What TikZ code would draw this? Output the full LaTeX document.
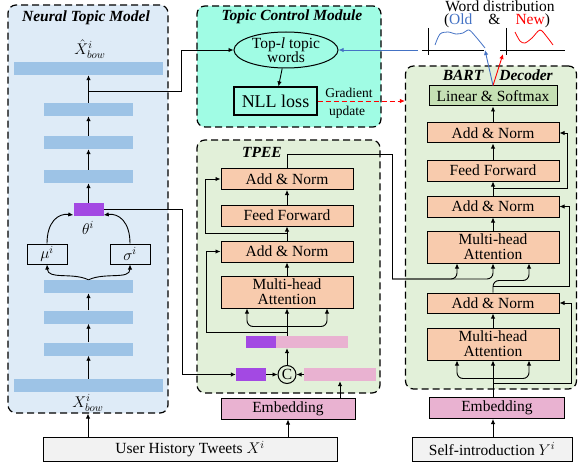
\RequirePackage{fix-cm}
\documentclass[tikz,border=0pt]{standalone}
\usepackage{fontspec}
\setmainfont{Liberation Serif}
\usetikzlibrary{arrows.meta,shapes.geometric,calc}

\definecolor{ntmfill}{RGB}{222,235,247}
\definecolor{barblue}{RGB}{157,195,230}
\definecolor{tcmfill}{RGB}{160,252,228}
\definecolor{encfill}{RGB}{226,240,217}
\definecolor{addnorm}{RGB}{248,203,173}
\definecolor{linfill}{RGB}{197,224,180}
\definecolor{embpink}{RGB}{233,178,209}
\definecolor{thetapurple}{RGB}{163,73,227}
\definecolor{inputgray}{RGB}{242,242,242}
\definecolor{distblue}{RGB}{68,114,196}

\newcommand\boxfont{\fontsize{15.5}{15}\selectfont}

\begin{document}
\begin{tikzpicture}[x=1pt,y=-1pt,
    >={Latex[length=5pt,width=4.5pt]},
    arr/.style={->, line width=0.9pt},
    region/.style={draw, line width=1.2pt, dash pattern=on 7pt off 4pt, rounded corners=8pt, inner sep=0pt},
    layer/.style={draw, line width=1pt, fill=addnorm, minimum width=132pt, minimum height=21pt, inner sep=0pt, font=\boxfont, align=center},
    bar/.style={fill=barblue, inner sep=0pt, minimum width=89pt, minimum height=13pt},
    widebar/.style={bar, minimum width=149pt},
    title/.style={font=\boxfont\bfseries\itshape},
    inbox/.style={draw, line width=1pt, fill=inputgray, minimum height=24pt, inner sep=0pt, font=\boxfont},
    embed/.style={draw, line width=1pt, fill=embpink, minimum height=21pt, inner sep=0pt, font=\boxfont},
    label/.style={font=\boxfont, inner sep=0pt}]
\useasboundingbox (0,0) rectangle (578,468);

% regions
\node[region, fill=ntmfill, minimum width=160pt, minimum height=408pt] (ntm) at (88,209) {};
\node[region, fill=tcmfill, minimum width=184pt, minimum height=121pt] (tcm) at (289,66.5) {};
\node[region, fill=encfill, minimum width=183pt, minimum height=253pt] (tpee) at (288.5,266.5) {};
\node[region, fill=encfill, minimum width=171pt, minimum height=323pt] (bart) at (491,227.5) {};

\node[title] (ntmtitle) at (86,18) {Neural Topic Model};
\node[title] (tcmtitle) at (292,17) {Topic Control Module};
\node[title] (tpeetitle) at (262,152) {TPEE};
\node[title] (barttitle) at (463,75) {BART};
\node[title] (dectitle) at (526,75) {Decoder};

% neural topic model
\node[label] (bowhat) at (90,49) {$\hat{X}^{i}_{bow}$};
\node[widebar] (bowout) at (88.5,68.5) {};
\node[bar] (h3) at (88.5,109.5) {};
\node[bar] (h2) at (88.5,142.5) {};
\node[bar] (h1) at (88.5,176.5) {};
\node[fill=thetapurple, inner sep=0pt, minimum width=30pt, minimum height=13pt] (theta) at (88.5,209.5) {};
\node[label] (thetalbl) at (88,228) {$\theta^{i}$};
\node[draw, line width=1pt, inner sep=0pt, minimum width=40pt, minimum height=20pt, font=\boxfont] (mu) at (47,254) {$\mu^{i}$};
\node[draw, line width=1pt, inner sep=0pt, minimum width=40pt, minimum height=20pt, font=\boxfont] (sigma) at (130,254) {$\sigma^{i}$};
\node[bar] (e4) at (88.5,286.5) {};
\node[bar] (e3) at (88.5,317) {};
\node[bar] (e2) at (88.5,349) {};
\node[widebar] (bowin) at (88.5,385.5) {};
\node[label] (bowlbl) at (88,403) {$X^{i}_{bow}$};

\draw[arr] (bowin) -- (e2);
\draw[arr] (e2) -- (e3);
\draw[arr] (e3) -- (e4);
\draw[arr] (e4.north) .. controls (72,272) and (48,280) .. (mu.south);
\draw[arr] (e4.north) .. controls (105,272) and (130,280) .. (sigma.south);
\draw[arr] (mu.north) .. controls (47,222) and (58,213) .. (theta.200);
\draw[arr] (sigma.north) .. controls (130,222) and (119,213) .. (theta.-20);
\draw[arr] (theta) -- (h1);
\draw[arr] (h1) -- (h2);
\draw[arr] (h2) -- (h3);
\draw[arr] (h3) -- (bowout);

% topic control module
\node[ellipse, draw, line width=1pt, inner sep=0pt, minimum width=104pt, minimum height=36pt, font=\boxfont, align=center] (topic) at (286,50) {Top-\textit{l} topic\\[-1pt]words};
\node[draw, line width=1.2pt, inner sep=0pt, minimum width=83pt, minimum height=28pt, font=\fontsize{18}{18}\selectfont] (nll) at (275.5,101) {NLL loss};
\draw[arr] (topic) -- (nll);
\draw[arr] ($(h3.north)!0.4!(bowout.south)$) -| ($(topic.west)+(-52,0)$) -- (topic.west);

\node[font=\fontsize{13.5}{14}\selectfont, inner sep=0pt] (gradlbl) at (349,93) {Gradient};
\node[font=\fontsize{13.5}{14}\selectfont, inner sep=0pt] (updlbl) at (347,112) {update};
\draw[arr, red, dashed, dash pattern=on 5pt off 3pt] (nll.east) -- (nll.east -| bart.west);

% word distribution
\node[label] (distlbl) at (500,6) {Word distribution};
\node[label] (distkey) at (497,21) {({\color{distblue}Old}\hspace*{16pt}\&\hspace*{15pt}{\color{red}New})};
\draw[line width=1pt] (428,28) -- (428,55);
\draw[line width=1pt] (422,51) -- (484,51);
\draw[line width=1pt] (506,28) -- (506,55);
\draw[line width=1pt] (500,51) -- (565,51);
\draw[distblue, line width=0.8pt] plot[smooth] coordinates {(435,45) (440,34) (448,32) (456,34) (463,33) (469,30) (476,37) (485,48)};
\draw[red, line width=0.8pt] plot[smooth] coordinates {(515,32) (520,41) (525,43) (532,38) (540,30) (547,37) (553,45)};
\coordinate (oldtip) at (485,50);
\coordinate (newtip) at (503,54);
\coordinate (oldtail) at (418,50);
\draw[arr, distblue] (oldtail) -- (topic.east);

% TPEE
\node[layer] (tan2) at (287,179) {Add \& Norm};
\node[layer] (tff) at (287,215.5) {Feed Forward};
\node[layer] (tan1) at (287,251.5) {Add \& Norm};
\node[layer, minimum height=32pt] (tmha) at (287,292) {Multi-head\\Attention};
\node[fill=thetapurple, inner sep=0pt, minimum width=30pt, minimum height=12pt] (catp) at (261,342) {};
\node[fill=embpink, inner sep=0pt, minimum width=72pt, minimum height=12pt] (catk) at (312,342) {};
\node[fill=thetapurple, inner sep=0pt, minimum width=30pt, minimum height=13pt] (catl) at (251,374.5) {};
\node[circle, draw, line width=1pt, inner sep=0pt, minimum size=18pt, font=\boxfont] (concat) at (287,374.5) {C};
\node[fill=embpink, inner sep=0pt, minimum width=72pt, minimum height=13pt] (tok) at (340,374.5) {};
\node[embed, minimum width=134pt] (temb) at (288,408.5) {Embedding};

\draw[arr] (tmha) -- (tan1);
\draw[arr] (tan1) -- (tff);
\draw[arr] (tff) -- (tan2);
\draw[arr] ($(tan1.north)!0.5!(tff.south)$) -| ($(tan2.west)+(-15,0)$) -- (tan2.west);
\draw[arr] ($(tmha.south)+(0,24)$) -| ($(tan1.west)+(-14,0)$) -- (tan1.west);
\draw[arr] (catp.north -| tmha.south) -- (tmha.south);
\draw[arr, rounded corners=6pt] ($(tmha.south)+(0,18)$) -| ($(tmha.south)+(-40,0)$);
\draw[arr, rounded corners=6pt] ($(tmha.south)+(0,18)$) -| ($(tmha.south)+(40,0)$);
\draw[arr] (catl) -- (concat);
\draw[arr] (tok) -- (concat);
\draw[arr] (concat.north) -- (concat.north |- catp.south);
\draw[arr] (tok.south |- temb.north) -- (tok.south);
\draw[arr] (theta.east) -| ($(catl.west)+(-53,0)$) -- (catl.west);

% BART decoder
\node[layer, fill=linfill, minimum width=128pt, minimum height=20pt] (blin) at (493,96) {Linear \& Softmax};
\node[layer, minimum height=20pt] (ban3) at (493,133) {Add \& Norm};
\node[layer] (bff) at (493,170.5) {Feed Forward};
\node[layer] (ban2) at (493,206.5) {Add \& Norm};
\node[layer, minimum height=32pt] (bmha) at (493,247) {Multi-head\\Attention};
\node[layer, minimum height=20pt] (ban1) at (493,303) {Add \& Norm};
\node[layer, minimum height=32pt] (bsmha) at (493,344) {Multi-head\\Attention};
\node[embed, minimum width=135pt] (bemb) at (497,408) {Embedding};

\draw[arr] (bemb.north -| bsmha.south) -- (bsmha.south);
\draw[arr, rounded corners=6pt] ($(bsmha.south)+(0,18)$) -| ($(bsmha.south)+(-36,0)$);
\draw[arr, rounded corners=6pt] ($(bsmha.south)+(0,18)$) -| ($(bsmha.south)+(36,0)$);
\draw[arr] ($(bsmha.south)+(0,23)$) -| ($(ban1.east)+(12,0)$) -- (ban1.east);
\draw[arr] (bsmha) -- (ban1);
\draw[arr, rounded corners=6pt] (ban1.north) -- ($(bmha.south)+(0,17)$) -| ($(bmha.south)+(36,0)$);
\draw[arr] ($(ban1.north)+(0,-6)$) -| ($(ban2.east)+(10,0)$) -- (ban2.east);
\draw (tan2.north) |- ++(105,-14) -- ++(0,125) coordinate (encout);
\draw[arr, rounded corners=6pt] (encout) -| ($(bmha.south)+(-36,0)$);
\draw[arr, rounded corners=6pt] (encout) -| (bmha.south);
\draw[arr] (bmha) -- (ban2);
\draw[arr] (ban2) -- (bff);
\draw[arr] (bff) -- (ban3);
\draw[arr] ($(ban2.north)!0.5!(bff.south)$) -| ($(ban3.east)+(8,0)$) -- (ban3.east);
\draw[arr] (ban3) -- (blin);
\draw[arr, distblue] (blin.north) -- (oldtip);
\draw[arr, red] (blin.north) -- (newtip);

% inputs
\node[inbox, minimum width=294pt] (user) at (190,449) {User History Tweets $X^{i}$};
\node[inbox, minimum width=160pt] (self) at (492,449) {Self-introduction $Y^{i}$};
\draw[arr] (user.north -| ntm) -- (ntm.south);
\draw[arr] (user.north -| temb) -- (temb.south);
\draw[arr] (self.north -| bsmha) -- (bemb.south -| bsmha);
\end{tikzpicture}
\end{document}
